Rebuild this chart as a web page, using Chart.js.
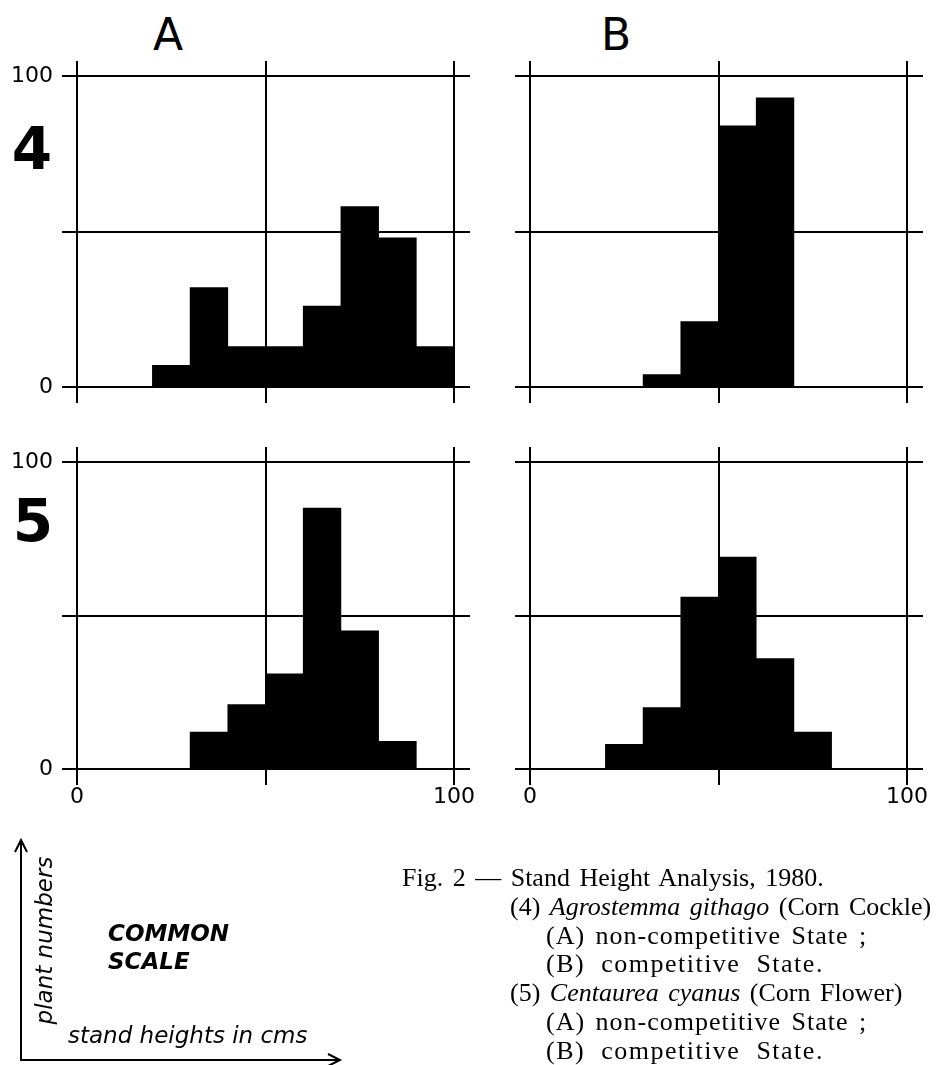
<!DOCTYPE html>
<html>
<head>
<meta charset="utf-8">
<script src="https://cdn.jsdelivr.net/npm/chart.js@4.4.1/dist/chart.umd.min.js"></script>
<style>
  body { margin: 0; background: #fff; color: #000; font-family: "DejaVu Sans", sans-serif; }
  #page { position: relative; width: 937px; height: 1065px; overflow: hidden; }
  .panel { position: absolute; }
  .big { position: absolute; line-height: 1; text-align: center; }
  #caption { position: absolute; left: 402px; top: 864px; font-family: "Liberation Serif", serif; font-size: 26px; line-height: 28.8px; white-space: nowrap; word-spacing: 3px; }
  #caption .l2 { padding-left: 108px; }
  #caption .l3 { padding-left: 144px; letter-spacing: 1px; }
  #caption .l4 { padding-left: 144px; letter-spacing: 1.5px; word-spacing: 8px; }
  .key { position: absolute; white-space: nowrap; font-style: italic; line-height: 1; }
</style>
</head>
<body>
<div id="page">
  <div class="big" style="left:118px;top:13px;width:100px;font-size:44px;">A</div>
  <div class="big" style="left:566px;top:13px;width:100px;font-size:44px;">B</div>
  <div class="big" style="left:0;top:120px;width:64px;font-size:58px;font-weight:bold;">4</div>
  <div class="big" style="left:1px;top:492px;width:64px;font-size:58px;font-weight:bold;">5</div>

  <canvas class="panel" id="a4" width="484" height="391" style="left:0;top:46px"></canvas>
  <canvas class="panel" id="b4" width="484" height="391" style="left:453px;top:46px"></canvas>
  <canvas class="panel" id="a5" width="484" height="387" style="left:0;top:432px"></canvas>
  <canvas class="panel" id="b5" width="484" height="387" style="left:453px;top:432px"></canvas>

  <svg width="937" height="1065" style="position:absolute;left:0;top:0" fill="none" stroke="#000" stroke-width="2">
    <path d="M21 1060 V841 M15 852 L21 840 L27 852"/>
    <path d="M20 1060 H339 M328 1054 L340 1060 L328 1066"/>
  </svg>
  <div class="key" style="left:-56px;top:929px;width:200px;height:23px;font-size:23px;text-align:center;transform:rotate(-90deg);">plant numbers</div>
  <div class="key" style="left:108px;top:922px;font-size:23px;font-weight:bold;">COMMON</div>
  <div class="key" style="left:108px;top:950px;font-size:23px;font-weight:bold;">SCALE</div>
  <div class="key" style="left:68px;top:1024px;font-size:23px;">stand heights in cms</div>

  <div id="caption">
    <div>Fig. 2 — Stand Height Analysis, 1980.</div>
    <div class="l2">(4) <i>Agrostemma githago</i> (Corn Cockle)</div>
    <div class="l3">(A) non-competitive State ;</div>
    <div class="l4">(B) competitive State.</div>
    <div class="l2">(5) <i>Centaurea cyanus</i> (Corn Flower)</div>
    <div class="l3">(A) non-competitive State ;</div>
    <div class="l4">(B) competitive State.</div>
  </div>
</div>

<script>
// stand height classes (cm), 10 cm bins, given by their centres
var binCentres = [5, 15, 25, 35, 45, 55, 65, 75, 85, 95];
// plant numbers per class
var agrostemmaA = [0, 0, 7, 32, 13, 13, 26, 58, 48, 13];
var agrostemmaB = [0, 0, 0, 4, 21, 84, 93, 0, 0, 0];
var centaureaA = [0, 0, 0, 12, 21, 31, 85, 45, 9, 0];
var centaureaB = [0, 0, 8, 20, 56, 69, 36, 12, 0, 0];
var gridValues = [0, 50, 100];

function toPoints(values) {
    return binCentres
        .map(function (x, i) { return { x: x, y: values[i] }; })
        .filter(function (p) { return p.y > 0; });
}

// axis lines at 0 / 50 / 100, running a little past the plot on every side
var frameLines = {
    id: "frameLines",
    beforeDatasetsDraw: function (chart) {
        var ctx = chart.ctx, a = chart.chartArea;
        var xs = chart.scales.x, ys = chart.scales.y;
        ctx.save();
        ctx.strokeStyle = "#000";
        ctx.lineWidth = 2;
        ctx.beginPath();
        gridValues.forEach(function (v) {
            var py = Math.round(ys.getPixelForValue(v));
            ctx.moveTo(a.left - 15, py);
            ctx.lineTo(a.right + 16, py);
            var px = Math.round(xs.getPixelForValue(v));
            ctx.moveTo(px, a.top - 15);
            ctx.lineTo(px, a.bottom + 16);
        });
        ctx.stroke();
        ctx.restore();
    }
};

function makePanel(id, values, showY, showX) {
    var ctx = document.getElementById(id).getContext("2d");
    var tickFont = { family: "DejaVu Sans", size: 22 };
    var endsOnly = function (v) { return v === 50 ? "" : v; };
    return new Chart(ctx, {
        type: "bar",
        data: {
            datasets: [{
                data: toPoints(values),
                backgroundColor: "#000",
                borderWidth: 0,
                barPercentage: 1,
                categoryPercentage: 1
            }]
        },
        options: {
            responsive: false,
            animation: false,
            layout: { padding: { top: 30, right: 30, left: 0, bottom: 0 } },
            plugins: {
                legend: { display: false },
                tooltip: { enabled: false }
            },
            scales: {
                x: {
                    type: "linear",
                    offset: false,
                    min: 0,
                    max: 100,
                    // fixed size so every panel gets the same plot box
                    afterFit: function (s) {
                        s.height = 50;
                        s.paddingLeft = 0;
                        s.paddingRight = 0;
                    },
                    grid: { display: false, drawTicks: false },
                    border: { display: false },
                    ticks: {
                        display: showX, stepSize: 50, padding: 15, maxRotation: 0,
                        autoSkip: false, color: "#000", font: tickFont, callback: endsOnly
                    }
                },
                y: {
                    min: 0,
                    max: 100,
                    afterFit: function (s) {
                        s.width = 77;
                        s.paddingTop = 0;
                        s.paddingBottom = 0;
                    },
                    grid: { display: false, drawTicks: false },
                    border: { display: false },
                    ticks: {
                        display: showY, stepSize: 50, padding: 24,
                        color: "#000", font: tickFont, callback: endsOnly
                    }
                }
            }
        },
        plugins: [frameLines]
    });
}

makePanel("a4", agrostemmaA, true, false);
makePanel("b4", agrostemmaB, false, false);
makePanel("a5", centaureaA, true, true);
makePanel("b5", centaureaB, false, true);
</script>
</body>
</html>
